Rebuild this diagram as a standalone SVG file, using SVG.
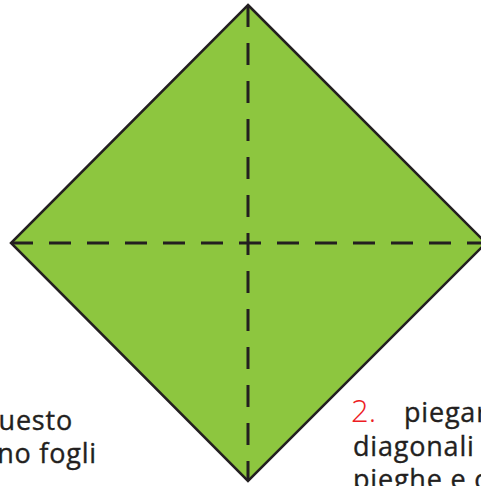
<svg xmlns="http://www.w3.org/2000/svg" width="481" height="486" viewBox="0 0 481 486">
<style>
.t{font-family:"Open Sans","Noto Sans","Liberation Sans",sans-serif;font-size:27px;fill:#231F20;stroke:#231F20;stroke-width:0.35;letter-spacing:0.8px}
.fold{stroke:#231F20;stroke-width:3;stroke-dasharray:22 16;fill:none}
</style>
<rect width="481" height="486" fill="#ffffff"/>
<g id="square">
<polygon points="248,5 486,243 248,481 11,243" fill="#8DC63F" stroke="#231F20" stroke-width="2.5" stroke-linejoin="miter"/>
</g>
<g id="folds">
<line class="fold" x1="11" y1="243" x2="486" y2="243"/>
<line class="fold" x1="248" y1="5" x2="248" y2="481"/>
</g>
<g id="text-left">
<text class="t" x="73" y="430" text-anchor="end">questo</text>
<text class="t" x="97" y="463" text-anchor="end">no fogli</text>
</g>
<g id="text-right">
<text x="351" y="422" font-family="'Open Sans','Noto Sans',sans-serif" font-size="31" font-weight="300" fill="#ED1C24">2.</text>
<text class="t" x="404" y="422">piegare</text>
<text class="t" x="353" y="456">diagonali</text>
<text class="t" x="353" y="489">pieghe e c</text>
</g>
</svg>
